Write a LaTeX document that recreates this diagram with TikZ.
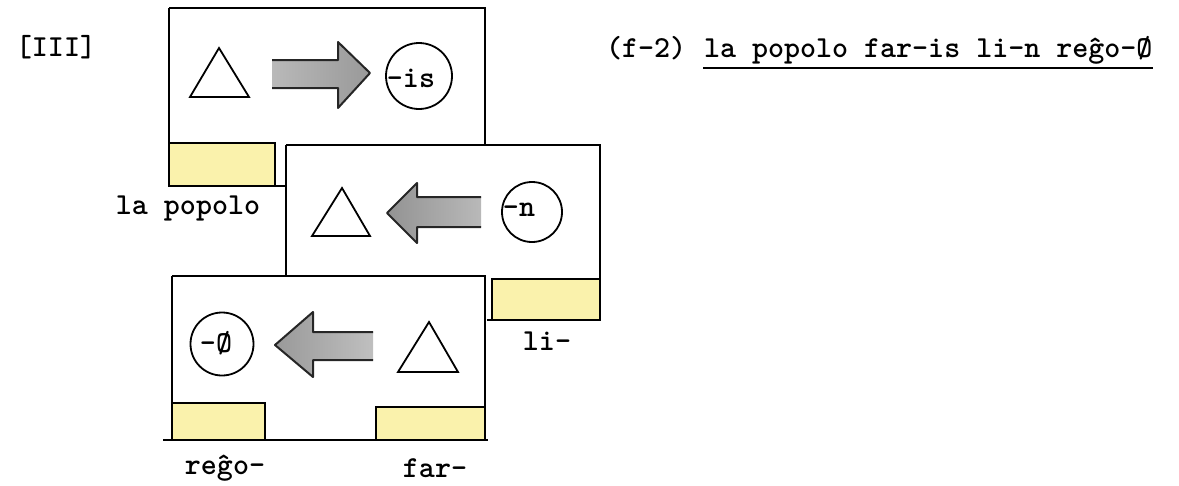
\documentclass[tikz,border=0pt]{standalone}
\usepackage{fontspec}
\usetikzlibrary{positioning}
\definecolor{tagyellow}{RGB}{250,242,172}

\begin{document}
\begin{tikzpicture}[x=1pt,y=-1pt,line width=2pt,
  tt/.style={font=\fontsize{30.5}{36}\selectfont\ttfamily\bfseries,inner sep=0pt},
  tag/.style={fill=tagyellow,draw=none},
  suffix/.style={circle,draw,line width=1.8pt,inner sep=0pt},
  tri/.style={draw,line width=1.8pt,line join=miter}]
\useasboundingbox (0,0) rectangle (1179,485);

% frame 1
\draw (169,8)--(485,8)--(485,145);
\draw (169,8)--(169,186)--(286,186);
% frame 2
\draw (286,145)--(600,145)--(600,320)--(487,320);
\draw (286,145)--(286,276);
% frame 3
\draw (172,276)--(485,276)--(485,440);
\draw (172,276)--(172,440);
\draw (163,440)--(488,440);

% yellow slots
\path[tag] (170,144) rectangle (275,185);
\draw (169,143)--(275,143)--(275,186);
\path[tag] (493,280) rectangle (599,319);
\draw (600,279)--(492,279)--(492,320);
\path[tag] (173,404) rectangle (265,439);
\draw (172,403)--(265,403)--(265,440);
\path[tag] (377,408) rectangle (484,439);
\draw (485,407)--(376,407)--(376,440);

% triangles
\draw[tri] (190,97)--(249,97)--(219,48)--cycle;
\draw[tri] (312,236)--(370,236)--(342,188)--cycle;
\draw[tri] (398,372)--(458,372)--(429,322)--cycle;

% arrows
\path[left color=gray!55,right color=gray!80]
  (272,60)--(338,60)--(338,42)--(370,73)--(338,108)--(338,88)--(272,88)--cycle;
\draw[black!85,line join=round] (272,60)--(338,60)--(338,42)--(370,73)--(338,108)--(338,88)--(272,88);
\path[left color=gray!85,right color=gray!55]
  (481,197)--(417,197)--(417,183)--(387,213)--(417,243)--(417,227)--(481,227)--cycle;
\draw[black!85,line join=round] (481,197)--(417,197)--(417,183)--(387,213)--(417,243)--(417,227)--(481,227);
\path[left color=gray!80,right color=gray!50]
  (373,332)--(313,332)--(313,312)--(275,345)--(313,377)--(313,360)--(373,360)--cycle;
\draw[black!85,line join=round] (373,332)--(313,332)--(313,312)--(275,345)--(313,377)--(313,360)--(373,360);

% suffix circles
\node[suffix,minimum size=66pt] (cis) at (419,76) {};
\node[suffix,minimum size=60pt] (cn) at (532,212) {};
\node[suffix,minimum size=63pt] (cnull) at (222,344) {};
\node[tt] (sis) at (411,78) {-is};
\node[tt] (sn) at (519,210) {-n};
\node[tt] (snull) at (216,343) {-Ø};

% labels
\node[tt] (roman) at (56,47) {[III]};
\node[tt] (lapopolo) at (188,208) {la popolo};
\node[tt] (li) at (547,341) {li-};
\node[tt] (rego) at (225,468) {reĝo-};
\node[tt] (far) at (435,468) {far-};

% example sentence
\node[tt,anchor=base west] (fnum) at (605,57) {(f-2)};
\node[tt,anchor=base west] (sent) at ([xshift=16pt]fnum.base east) {la popolo far-is li-n reĝo-Ø};
\draw[line width=2.4pt] ([yshift=-3pt]sent.south west)--([yshift=-3pt]sent.south east);
\end{tikzpicture}
\end{document}
